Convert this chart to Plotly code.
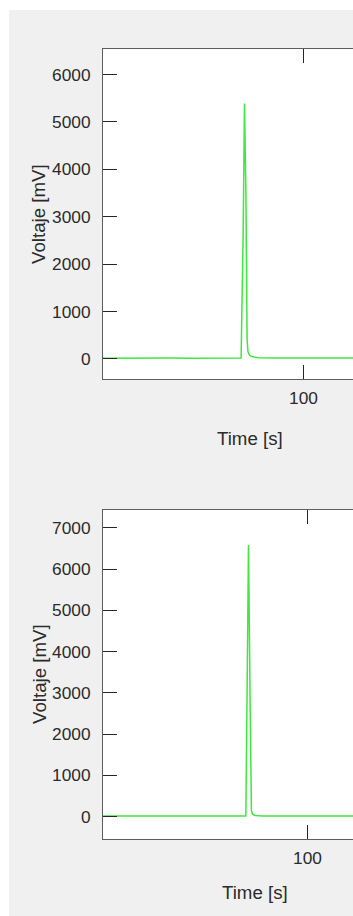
import plotly.graph_objects as go

# Run 1: detector trace (time in s, signal in mV)
time_run1 = [33.0, 38.0, 44.0, 50.0, 56.0, 62.0, 68.0, 74.0, 78.5, 79.2,
             79.9, 80.33, 80.8, 81.0, 81.2, 81.5, 82.0, 83.0, 85.0, 90.0,
             96.0, 102.0, 108.0, 116.7]
volt_run1 = [18, 21, 19, 22, 20, 18, 21, 19, 20, 22,
             2700, 5390, 3500, 2000, 400, 150, 80, 45, 28, 21,
             19, 20, 22, 19]

# Run 2: detector trace (time in s, signal in mV)
time_run2 = [31.5, 37.0, 43.0, 49.0, 55.0, 61.0, 67.0, 73.0, 78.5, 79.45,
             79.9, 80.33, 80.8, 81.1, 81.3, 81.7, 82.5, 85.0, 90.0, 96.0,
             102.0, 108.0, 115.3]
volt_run2 = [17, 15, 18, 16, 14, 17, 15, 16, 18, 15,
             3300, 6580, 3300, 700, 150, 60, 30, 18, 16, 15,
             17, 16, 15]

x_tick_vals = [0, 100, 200]
y_tick_vals_1 = [0, 1000, 2000, 3000, 4000, 5000, 6000]
y_tick_vals_2 = [0, 1000, 2000, 3000, 4000, 5000, 6000, 7000]

W, H = 353, 916
ML = 103
PLOT_W = W - ML

AX_COLOR = "#262626"
BOX_COLOR = "#5e5e5e"
FIG_BG = "#f0f0f0"
LINE_GREEN = "#3ee83e"
TICK_FONT = dict(family="Liberation Sans, Arial, sans-serif", size=17.3, color="#2b2b2b")
TITLE_FONT = dict(family="Liberation Sans, Arial, sans-serif", size=18.7, color="#2b2b2b")


def px_x(px):
    return (px - ML) / PLOT_W


def px_y(py):
    return 1 - py / H


fig = go.Figure()
fig.add_trace(go.Scatter(x=time_run1, y=volt_run1, mode="lines",
                         line=dict(color=LINE_GREEN, width=1.5),
                         xaxis="x", yaxis="y", showlegend=False))
fig.add_trace(go.Scatter(x=time_run2, y=volt_run2, mode="lines",
                         line=dict(color=LINE_GREEN, width=1.5),
                         xaxis="x2", yaxis="y2", showlegend=False))

common_x = dict(showline=True, linecolor=BOX_COLOR, linewidth=1, mirror="ticks",
                ticks="inside", ticklen=14, tickcolor=AX_COLOR, tickwidth=1,
                tickvals=x_tick_vals, tickfont=TICK_FONT, showgrid=False,
                zeroline=False, ticklabelstandoff=3)
common_y = dict(showline=True, linecolor=BOX_COLOR, linewidth=1, mirror=False,
                ticks="inside", ticklen=14, tickcolor=AX_COLOR, tickwidth=1,
                tickfont=TICK_FONT, showgrid=False, zeroline=False,
                ticklabelstandoff=8)

fig.update_layout(
    width=W, height=H,
    margin=dict(l=ML, r=0, t=0, b=0),
    paper_bgcolor=FIG_BG, plot_bgcolor="white",
    xaxis=dict(common_x, domain=[0, 1], range=[33.17, 116.5], anchor="y"),
    yaxis=dict(common_y, domain=[px_y(379), px_y(49)], range=[-422, 6538],
               tickvals=y_tick_vals_1, anchor="x"),
    xaxis2=dict(common_x, domain=[0, 1], range=[31.83, 115.17], anchor="y2"),
    yaxis2=dict(common_y, domain=[px_y(839), px_y(510)], range=[-540, 7429],
                tickvals=y_tick_vals_2, anchor="x2"),
    shapes=[
        dict(type="rect", xref="paper", yref="paper", layer="below",
             x0=px_x(0), x1=px_x(9), y0=0, y1=1,
             fillcolor="white", line=dict(width=0)),
        dict(type="rect", xref="paper", yref="paper", layer="below",
             x0=px_x(0), x1=1, y0=px_y(10), y1=1,
             fillcolor="white", line=dict(width=0)),
    ],
    annotations=[
        dict(text="Time [s]", xref="paper", yref="paper", x=px_x(250), y=px_y(438),
             showarrow=False, font=TITLE_FONT, xanchor="center", yanchor="middle"),
        dict(text="Time [s]", xref="paper", yref="paper", x=px_x(255), y=px_y(892),
             showarrow=False, font=TITLE_FONT, xanchor="center", yanchor="middle"),
        dict(text="Voltaje [mV]", xref="paper", yref="paper", x=px_x(39), y=px_y(214),
             showarrow=False, font=TITLE_FONT, textangle=-90,
             xanchor="center", yanchor="middle"),
        dict(text="Voltaje [mV]", xref="paper", yref="paper", x=px_x(39), y=px_y(674),
             showarrow=False, font=TITLE_FONT, textangle=-90,
             xanchor="center", yanchor="middle"),
    ],
)

fig.write_html("out.html")
